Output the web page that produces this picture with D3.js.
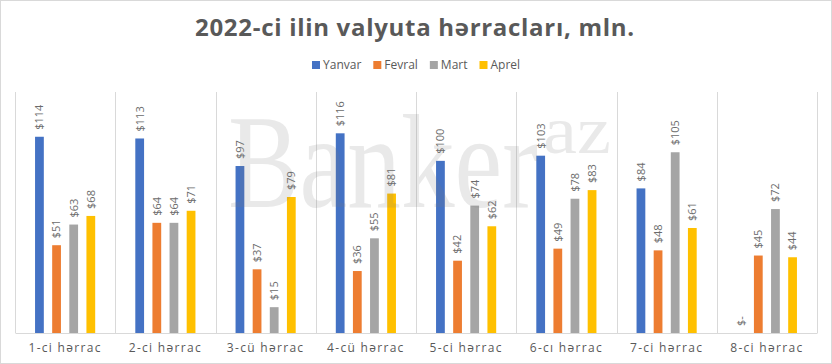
<!DOCTYPE html>
<html>
<head>
<meta charset="utf-8">
<script src="https://cdn.jsdelivr.net/npm/d3@7"></script>
<style>
	body { margin: 0; background: #fff; }
	svg { display: block; font-family: "Open Sans", "Noto Sans", sans-serif; }
</style>
</head>
<body>
<svg id="chart"></svg>
<script>
var categories = ["1-ci hərrac", "2-ci hərrac", "3-cü hərrac", "4-cü hərrac", "5-ci hərrac", "6-cı hərrac", "7-ci hərrac", "8-ci hərrac"];
var seriesNames = ["Yanvar", "Fevral", "Mart", "Aprel"];
var yanvar = [114, 113, 97, 116, 100, 103, 84, 0];
var fevral = [51, 64, 37, 36, 42, 49, 48, 45];
var mart = [63, 64, 15, 55, 74, 78, 105, 72];
var aprel = [68, 71, 79, 81, 62, 83, 61, 44];
var colors = ["#4472C4", "#ED7D31", "#A5A5A5", "#FFC000"];

var seriesValues = [yanvar, fevral, mart, aprel];

var W = 832, H = 364;
var margin = {top: 92, right: 15, bottom: 31, left: 15};
var width = W - margin.left - margin.right;
var height = H - margin.top - margin.bottom;

var svg = d3.select("#chart").attr("width", W).attr("height", H);

// outer border
svg.append("rect")
	.attr("x", 0.5).attr("y", 0.5)
	.attr("width", W - 1).attr("height", H - 1)
	.attr("fill", "#fff").attr("stroke", "#d9d9d9");

// title
svg.append("text")
	.attr("x", 195).attr("y", 36)
	.attr("textLength", 439)
	.attr("lengthAdjust", "spacing")
	.attr("font-size", 24)
	.attr("font-weight", "bold")
	.attr("fill", "#595959")
	.text("2022-ci ilin valyuta hərracları, mln.");

// legend
var legend = svg.append("g");
var lx = 0;
seriesNames.forEach(function (name, i) {
	var item = legend.append("g").attr("transform", "translate(" + lx + ",0)");
	item.append("rect")
		.attr("x", 0).attr("y", 61)
		.attr("width", 8).attr("height", 8)
		.attr("fill", colors[i]);
	var t = item.append("text")
		.attr("x", 11).attr("y", 68.5)
		.attr("font-size", 12)
		.attr("fill", "#595959")
		.text(name);
	lx += 11 + t.node().getComputedTextLength() + 12;
});
lx -= 12;
legend.attr("transform", "translate(" + (317 - 0) + ",0)");
legend.attr("transform", "translate(" + Math.round(416 - lx / 2) + ",0)");

var g = svg.append("g")
	.attr("transform", "translate(" + margin.left + "," + margin.top + ")");

var x0 = d3.scaleBand().domain(categories).range([0, width]).padding(0);
var x1 = d3.scaleBand().domain(seriesNames)
	.range([x0.bandwidth() * 0.2, x0.bandwidth() * 0.8])
	.paddingInner(0.488).paddingOuter(0);
var y = d3.scaleLinear().domain([0, 140]).range([height, 0]);

// vertical category gridlines
var gridX = categories.map(function (c) { return x0(c); });
gridX.push(width);
g.selectAll(".grid")
	.data(gridX)
	.enter().append("line")
	.attr("x1", function (d) { return Math.round(d) + 0.5; })
	.attr("x2", function (d) { return Math.round(d) + 0.5; })
	.attr("y1", 0).attr("y2", height)
	.attr("stroke", "#d9d9d9");

// x axis
var xAxis = d3.axisBottom(x0).tickSize(0).tickPadding(10);
var ax = g.append("g")
	.attr("transform", "translate(0," + height + ")")
	.call(xAxis);
ax.select(".domain").attr("stroke", "#d9d9d9");
ax.selectAll("text")
	.attr("font-size", 12)
	.attr("font-family", "\"Open Sans\", \"Noto Sans\", sans-serif")
	.attr("letter-spacing", 1.3)
	.attr("fill", "#595959");

// bars
var groups = g.selectAll(".cat")
	.data(categories)
	.enter().append("g")
	.attr("transform", function (c) { return "translate(" + x0(c) + ",0)"; });

groups.each(function (c, ci) {
	var grp = d3.select(this);
	seriesNames.forEach(function (s, si) {
		var v = seriesValues[si][ci];
		grp.append("rect")
			.attr("x", x1(s))
			.attr("y", y(v))
			.attr("width", x1.bandwidth())
			.attr("height", height - y(v))
			.attr("fill", colors[si]);
		var cx = x1(s) + x1.bandwidth() / 2;
		var cy = y(v) - 7;
		grp.append("text")
			.attr("transform", "translate(" + cx + "," + cy + ") rotate(-90)")
			.attr("dy", "0.35em")
			.attr("font-size", 11)
			.attr("fill", "#6b6b6b")
			.text(v == 0 ? "$-" : "$" + v);
	});
});

// watermark
var wm = svg.append("g").attr("fill", "#7a7a7a").attr("fill-opacity", 0.17)
	.attr("font-family", "\"Liberation Serif\", \"DejaVu Serif\", serif");
wm.append("text")
	.attr("x", 228).attr("y", 207)
	.attr("font-size", 134)
	.attr("textLength", 310)
	.attr("lengthAdjust", "spacingAndGlyphs")
	.text("Banker");
wm.append("text")
	.attr("x", 543).attr("y", 153)
	.attr("font-size", 68)
	.attr("textLength", 68)
	.attr("lengthAdjust", "spacingAndGlyphs")
	.text("az");
</script>
</body>
</html>
